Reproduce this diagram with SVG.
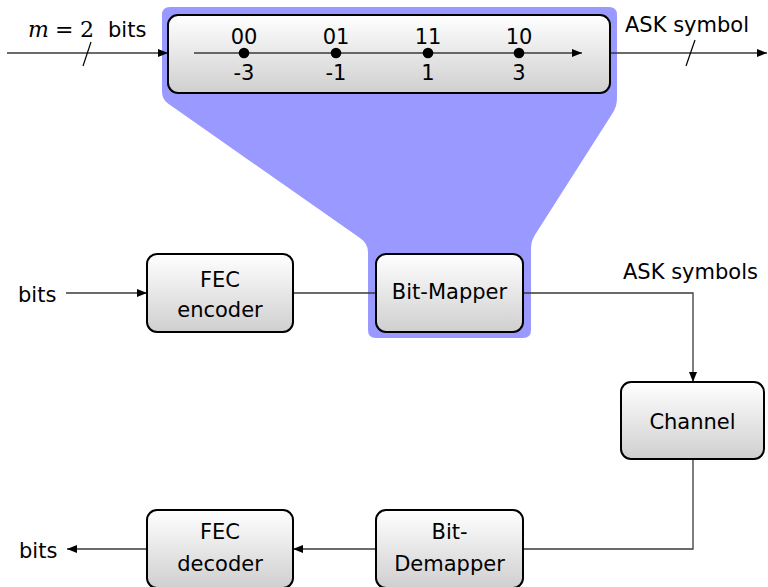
<svg xmlns="http://www.w3.org/2000/svg" width="768" height="587" viewBox="0 0 768 587">
  <defs>
    <linearGradient id="boxShade" x1="0" y1="0" x2="0" y2="1">
      <stop offset="0" stop-color="#ffffff"/>
      <stop offset="1" stop-color="#cfcfcf"/>
    </linearGradient>
    <marker id="arrow" viewBox="0 0 10 8" refX="10" refY="4" markerWidth="10" markerHeight="8" markerUnits="userSpaceOnUse" orient="auto">
      <path d="M0,0 L10,4 L0,8 Z" fill="#000"/>
    </marker>
  </defs>
  <style>
    .box { fill: url(#boxShade); stroke: #000; stroke-width: 2; }
    .lbl { font-family: "DejaVu Sans", sans-serif; font-size: 21px; fill: #000; }
    .mid { text-anchor: middle; }
    .math { font-family: "DejaVu Serif", serif; font-size: 22px; fill: #000; }
    .wire { fill: none; stroke: #3a3a3a; stroke-width: 1.3; }
    .tick { fill: none; stroke: #000; stroke-width: 1.2; }
    .dot { fill: #000; }
  </style>

  <!-- highlight linking the bit mapper to its constellation detail -->
  <path id="zoom-highlight" fill="#9999ff"
        d="M170,7 H609 Q617,7 617,15 V98 Q617,106 613,112.4 L535.5,234 Q531,240.7 531,248 V330 Q531,338 523,338 H376 Q368,338 368,330 V252 Q368,243.6 360,238 L168,103.6 Q162,99 162,92 V15 Q162,7 170,7 Z"/>

  <!-- connectors -->
  <g id="connectors">
    <line class="wire" x1="7" y1="53" x2="168" y2="53" marker-end="url(#arrow)"/>
    <line class="tick" x1="83" y1="66" x2="91" y2="42"/>
    <line class="wire" x1="610" y1="53" x2="767" y2="53" marker-end="url(#arrow)"/>
    <line class="tick" x1="686" y1="66" x2="695" y2="40"/>
    <line class="wire" x1="66" y1="293" x2="147" y2="293" marker-end="url(#arrow)"/>
    <line class="wire" x1="293" y1="293" x2="376" y2="293"/>
    <polyline class="wire" points="523,293 693,293 693,382" marker-end="url(#arrow)"/>
    <polyline class="wire" points="693,459 693,549 523,549"/>
    <line class="wire" x1="376" y1="549" x2="293" y2="549" marker-end="url(#arrow)"/>
    <line class="wire" x1="147" y1="549" x2="67" y2="549" marker-end="url(#arrow)"/>
  </g>

  <!-- input / output labels -->
  <g id="labels">
    <text class="math" x="28" y="37" font-style="italic">m</text>
    <text class="math" x="55" y="37">=</text>
    <text class="math" x="80" y="37">2</text>
    <text class="lbl" x="108" y="37">bits</text>
    <text class="lbl" x="625" y="32">ASK symbol</text>
    <text class="lbl" x="623" y="279">ASK symbols</text>
    <text class="lbl" x="18" y="302">bits</text>
    <text class="lbl" x="19" y="558">bits</text>
  </g>

  <!-- 4-ASK constellation with Gray labelling -->
  <g id="constellation">
    <rect class="box" x="168" y="15" width="442" height="78" rx="10"/>
    <line class="wire" x1="194" y1="53" x2="582" y2="53" marker-end="url(#arrow)"/>
    <circle class="dot" cx="244" cy="53" r="5.3"/>
    <circle class="dot" cx="336" cy="53" r="5.3"/>
    <circle class="dot" cx="428" cy="53" r="5.3"/>
    <circle class="dot" cx="519" cy="53" r="5.3"/>
    <text class="lbl mid" x="244" y="44">00</text>
    <text class="lbl mid" x="336" y="44">01</text>
    <text class="lbl mid" x="428" y="44">11</text>
    <text class="lbl mid" x="519" y="44">10</text>
    <text class="lbl mid" x="244" y="80">-3</text>
    <text class="lbl mid" x="336" y="80">-1</text>
    <text class="lbl mid" x="428" y="80">1</text>
    <text class="lbl mid" x="519" y="80">3</text>
  </g>

  <g id="fec-encoder">
    <rect class="box" x="147" y="254" width="146" height="78" rx="10"/>
    <text class="lbl mid" x="220" y="287">FEC</text>
    <text class="lbl mid" x="220" y="317">encoder</text>
  </g>

  <g id="bit-mapper">
    <rect class="box" x="376" y="254" width="147" height="78" rx="10"/>
    <text class="lbl mid" x="449.5" y="299" font-size="22">Bit-Mapper</text>
  </g>

  <g id="channel">
    <rect class="box" x="621" y="382" width="143" height="77" rx="10"/>
    <text class="lbl mid" x="692.5" y="429">Channel</text>
  </g>

  <g id="bit-demapper">
    <rect class="box" x="376" y="510" width="147" height="78" rx="10"/>
    <text class="lbl mid" x="449.5" y="539">Bit-</text>
    <text class="lbl mid" x="449.5" y="571">Demapper</text>
  </g>

  <g id="fec-decoder">
    <rect class="box" x="147" y="510" width="146" height="78" rx="10"/>
    <text class="lbl mid" x="220" y="539">FEC</text>
    <text class="lbl mid" x="220" y="571">decoder</text>
  </g>
</svg>
